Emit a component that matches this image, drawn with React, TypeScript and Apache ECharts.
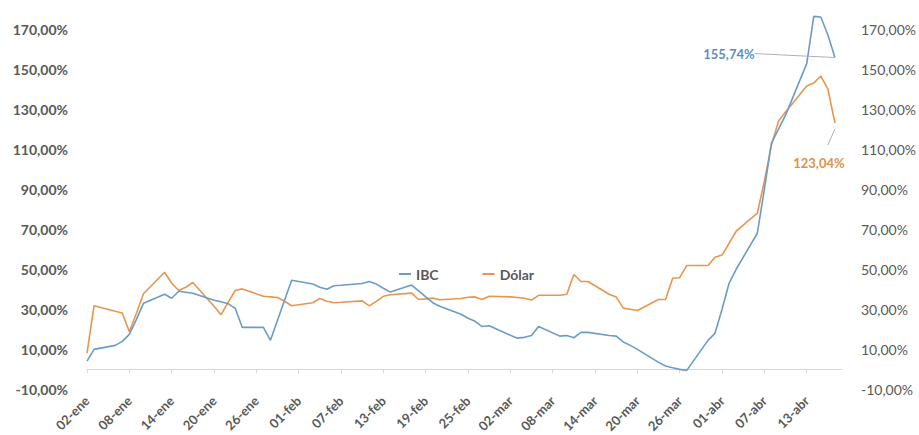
import React, { useEffect, useRef } from "react";
import * as echarts from "echarts";

// Calendar categories (02-ene .. 18-abr, 2020)
const MONTHS = ["ene", "feb", "mar", "abr"];
const MONTH_DAYS = [31, 29, 31, 30];
const START = { month: 0, day: 2 };
const END = { month: 3, day: 18 };

function buildCategories(): string[] {
  const out: string[] = [];
  let m = START.month;
  let d = START.day;
  while (m < END.month || (m === END.month && d <= END.day)) {
    out.push(String(d).padStart(2, "0") + "-" + MONTHS[m]);
    d++;
    if (d > MONTH_DAYS[m]) {
      d = 1;
      m++;
    }
  }
  return out;
}
const categories = buildCategories();

// Trading days with data
const tradingDays = [
  "02-ene", "03-ene", "06-ene", "07-ene", "08-ene", "09-ene", "10-ene",
  "13-ene", "14-ene", "15-ene", "16-ene", "17-ene",
  "20-ene", "21-ene", "22-ene", "23-ene", "24-ene",
  "27-ene", "28-ene", "29-ene", "30-ene", "31-ene",
  "03-feb", "04-feb", "05-feb", "06-feb", "07-feb",
  "10-feb", "11-feb", "12-feb", "13-feb", "14-feb",
  "17-feb", "18-feb", "19-feb", "20-feb", "21-feb",
  "24-feb", "25-feb", "26-feb", "27-feb", "28-feb",
  "02-mar", "03-mar", "04-mar", "05-mar", "06-mar",
  "09-mar", "10-mar", "11-mar", "12-mar", "13-mar",
  "16-mar", "17-mar", "18-mar", "19-mar", "20-mar",
  "23-mar", "24-mar", "25-mar", "26-mar", "27-mar",
  "30-mar", "31-mar", "01-abr", "02-abr", "03-abr",
  "06-abr", "07-abr", "08-abr", "09-abr", "10-abr",
  "13-abr", "14-abr", "15-abr", "16-abr", "17-abr",
];

const ibcValues = [
  4.1, 10, 12, 14, 17.5, 25, 33,
  37.5, 35.5, 39, 38.5, 38,
  34.5, 33.8, 32.8, 30.5, 21,
  21, 14.5, 24.5, 34.5, 44.5,
  42.6, 41, 40, 41.8, 42,
  42.9, 43.9, 42.6, 40.5, 38.6,
  42.1, 39.2, 36.2, 33.3, 31.5,
  27.5, 25.5, 24, 21.4, 21.8,
  17, 15.6, 16, 16.9, 21.4,
  16.6, 16.9, 15.8, 18.5, 18.5,
  16.9, 16.6, 13.7, 12, 10,
  3.5, 1.7, 0.8, 0, -0.5,
  14.5, 18, 30, 43, 50,
  68, 90, 113, 120, 127,
  152.7, 176.3, 176, 167, 155.74,
];

const dolarValues = [
  8.1, 31.8, 29, 28.2, 18.8, 28, 37.8,
  48.5, 43, 39.4, 41, 43.4,
  31.5, 27.3, 33.5, 39.4, 40.2,
  36.5, 36.2, 35.9, 34, 31.8,
  33.3, 35.4, 34, 33.3, 33.5,
  34.2, 31.7, 34, 36.5, 37.3,
  38.1, 34.9, 35.2, 35.6, 34.8,
  35.4, 36, 36.2, 34.9, 36.5,
  36.2, 35.9, 35.5, 34.6, 37,
  37, 37.5, 47.4, 43.9, 43.9,
  37.5, 36.2, 30.6, 30, 29.4,
  34.9, 34.9, 45.5, 45.8, 51.9,
  51.9, 56, 57.1, 63, 69,
  78, 94, 112, 124, 128.5,
  141.5, 143, 146.5, 140, 123.04,
];

const seriesNames = ["IBC", "Dólar"];
const yTicks = { min: -10, max: 170, interval: 20 };

const IBC_COLOR = "#6a9cc8";
const DOLAR_COLOR = "#e6964f";
const TEXT_COLOR = "#595959";
const GUIDE_COLOR = "#b0b0b0";
const FONT = "Lato";

const pct = (v: number) => v.toFixed(2).replace(".", ",") + "%";

function buildData(values: number[], labelColor: string) {
  return tradingDays.map((d, i) => {
    const idx = categories.indexOf(d);
    if (i === values.length - 1) {
      return {
        value: [idx, values[i]],
        symbol: "circle",
        symbolSize: 1,
        itemStyle: { color: "rgba(0,0,0,0)" },
        label: {
          show: true,
          position: "inside",
          formatter: (p: any) => pct(p.value[1]),
          color: labelColor,
          fontFamily: FONT,
          fontSize: 13,
          fontWeight: "bold",
        },
      };
    }
    return [idx, values[i]];
  });
}

export default function App() {
  const ref = useRef<HTMLDivElement>(null);
  useEffect(() => {
    const chart = echarts.init(ref.current!, null, { renderer: "svg" });
    const yAxisCommon = {
      type: "value",
      min: yTicks.min,
      max: yTicks.max,
      interval: yTicks.interval,
      axisLine: { show: false },
      axisTick: { show: false },
      splitLine: { show: false },
    };
    const lastIdx = categories.indexOf(tradingDays[tradingDays.length - 1]);
    const lastDolar = dolarValues[dolarValues.length - 1];
    chart.setOption({
      animation: false,
      backgroundColor: "#ffffff",
      grid: { left: 87, right: 75, top: 29, bottom: 33, containLabel: false },
      legend: {
        data: seriesNames,
        left: 394,
        top: 262,
        icon: "rect",
        itemWidth: 12,
        itemHeight: 2,
        itemGap: 44,
        textStyle: {
          color: TEXT_COLOR,
          fontFamily: FONT,
          fontSize: 14,
          fontWeight: "bold",
        },
      },
      xAxis: {
        type: "category",
        data: categories,
        boundaryGap: false,
        axisLine: { onZero: true, lineStyle: { color: "#d9d9d9", width: 1 } },
        axisTick: {
          show: true,
          interval: 5,
          length: 4,
          lineStyle: { color: "#d9d9d9" },
        },
        axisLabel: {
          interval: 5,
          rotate: 45,
          margin: 9,
          color: TEXT_COLOR,
          fontFamily: FONT,
          fontSize: 13,
          fontWeight: "bold",
        },
        splitLine: { show: false },
      },
      yAxis: [
        {
          ...yAxisCommon,
          position: "left",
          axisLabel: {
            formatter: pct,
            margin: 19,
            color: TEXT_COLOR,
            fontFamily: FONT,
            fontSize: 14,
            fontWeight: "bold",
          },
        },
        {
          ...yAxisCommon,
          position: "right",
          axisLabel: {
            formatter: pct,
            margin: 19,
            color: TEXT_COLOR,
            fontFamily: FONT,
            fontSize: 14,
          },
        },
      ],
      series: [
        {
          name: seriesNames[0],
          type: "line",
          data: buildData(ibcValues, "#5b8fc4"),
          symbol: "none",
          showSymbol: true,
          showAllSymbol: true,
          clip: false,
          color: IBC_COLOR,
          lineStyle: { width: 1.6, color: IBC_COLOR },
          labelLayout: { dx: -106, dy: -4 },
          labelLine: { show: true, lineStyle: { color: GUIDE_COLOR, width: 1 } },
          z: 3,
        },
        {
          name: seriesNames[1],
          type: "line",
          data: buildData(dolarValues, "#dc914c"),
          symbol: "none",
          showSymbol: true,
          showAllSymbol: true,
          clip: false,
          color: DOLAR_COLOR,
          lineStyle: { width: 1.6, color: DOLAR_COLOR },
          labelLayout: { dx: -16, dy: 40 },
          markLine: {
            silent: true,
            symbol: "none",
            animation: false,
            label: { show: false },
            lineStyle: { color: GUIDE_COLOR, width: 1, type: "solid" },
            data: [
              [
                { coord: [lastIdx - 0.3, lastDolar - 3] },
                { coord: [lastIdx - 1, lastDolar - 11] },
              ],
            ],
          },
          z: 2,
        },
      ],
    });
    return () => chart.dispose();
  }, []);
  return (
    <div
      ref={ref}
      style={{ position: "absolute", left: 0, top: 0, width: 919, height: 435 }}
    />
  );
}
